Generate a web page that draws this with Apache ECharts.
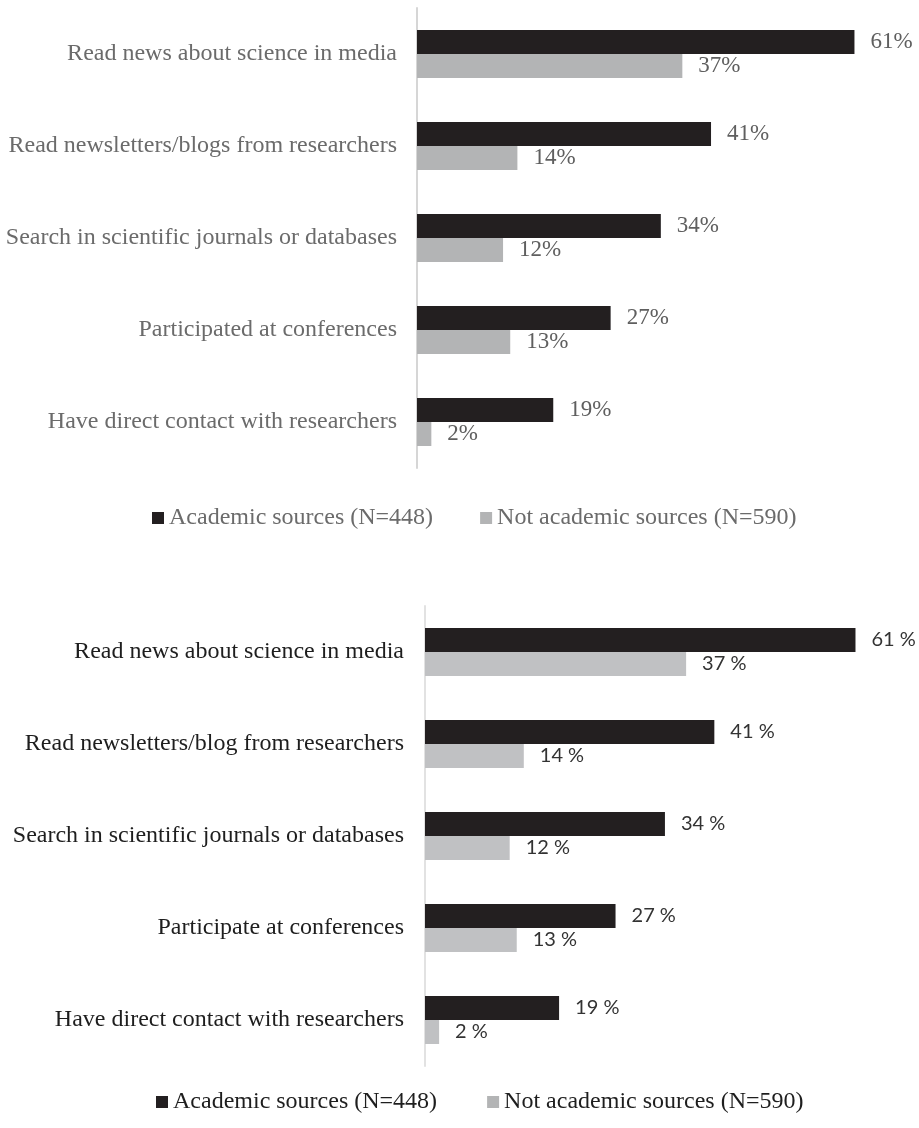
<!DOCTYPE html>
<html>
<head>
<meta charset="utf-8">
<script src="https://cdn.jsdelivr.net/npm/echarts@6/dist/echarts.min.js"></script>
<style>
html,body{margin:0;padding:0;background:#fff;}
#c{width:919px;height:1128px;}
</style>
</head>
<body>
<div id="c"></div>
<script>
const topCategories = ['Read news about science in media','Read newsletters/blogs from researchers','Search in scientific journals or databases','Participated at conferences','Have direct contact with researchers'];
const bottomCategories = ['Read news about science in media','Read newsletters/blog from researchers','Search in scientific journals or databases','Participate at conferences','Have direct contact with researchers'];
const seriesNames = ['Academic sources (N=448)','Not academic sources (N=590)'];
const topAcademic = [61,41,34,27,19];
const topNotAcademic = [37,14,12,13,2];
const bottomAcademic = [61,41,34,27,19];
const bottomNotAcademic = [37,14,12,13,2];

const chart = echarts.init(document.getElementById('c'), null, {renderer:'canvas'});
const serif = '"Liberation Serif","Times New Roman",serif';
const sans = 'Lato,"Open Sans",sans-serif';

function yAx(gi, cats, color, lineColor, lineW, margin){
  return {type:'category', gridIndex:gi, data:cats, inverse:true,
    axisLine:{show:true, lineStyle:{color:lineColor, width:lineW}},
    axisTick:{show:false},
    axisLabel:{margin:margin, fontFamily:serif, fontSize:24, color:color}};
}
function xAx(gi){
  return {type:'value', gridIndex:gi, min:0, max:70, show:false, splitLine:{show:false}};
}
function bar(name, gi, data, color, fmt, lblColor, lblFont, lblSize){
  return {name:name, type:'bar', xAxisIndex:gi, yAxisIndex:gi, data:data,
    barWidth:24, barGap:'0%', itemStyle:{color:color},
    label:{show:true, position:'right', distance:16, formatter:fmt,
      fontFamily:lblFont, fontSize:lblSize, color:lblColor},
    animation:false};
}

chart.setOption({
  animation:false,
  grid:[
    {left:417, top:8, width:503, height:460, containLabel:false},
    {left:425, top:606, width:498, height:460, containLabel:false}
  ],
  xAxis:[xAx(0), xAx(1)],
  yAxis:[
    yAx(0, topCategories, '#6b6b6b', '#d6d6d6', 2, 20),
    yAx(1, bottomCategories, '#1e1e1e', '#e2e2e2', 2, 21)
  ],
  legend:[
    {left:152, top:506, padding:0, itemWidth:12, itemHeight:12, itemGap:47, icon:'rect',
     data:seriesNames, selectedMode:false,
     textStyle:{fontFamily:serif, fontSize:24, color:'#6b6b6b'}},
    {left:156, top:1090, padding:0, itemWidth:12, itemHeight:12, itemGap:50, icon:'rect',
     data:seriesNames, selectedMode:false,
     textStyle:{fontFamily:serif, fontSize:24, color:'#1e1e1e'}}
  ],
  series:[
    bar(seriesNames[0], 0, topAcademic, '#231f20', '{c}%', '#5f5f5f', serif, 23),
    bar(seriesNames[1], 0, topNotAcademic, '#b3b4b5', '{c}%', '#5f5f5f', serif, 23),
    bar(seriesNames[0], 1, bottomAcademic, '#231f20', '{c} %', '#333333', sans, 20),
    bar(seriesNames[1], 1, bottomNotAcademic, '#c0c1c3', '{c} %', '#333333', sans, 20)
  ]
});
</script>
</body>
</html>
